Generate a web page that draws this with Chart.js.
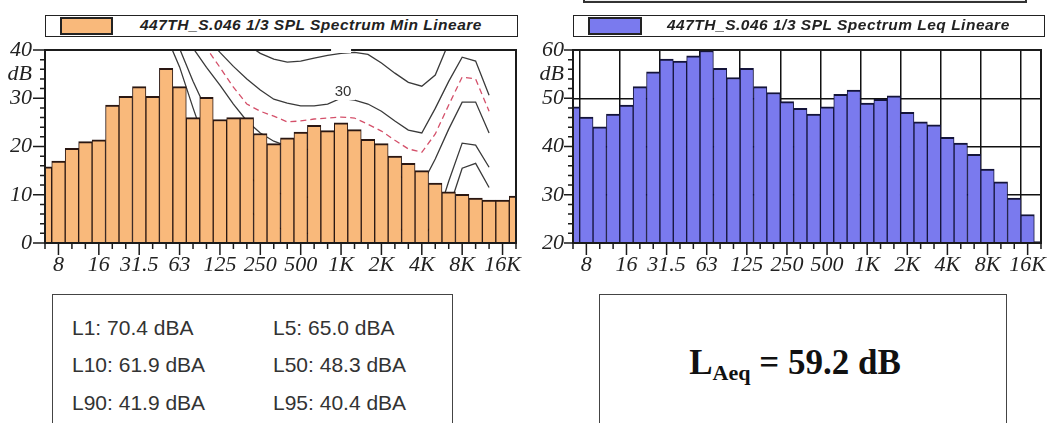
<!DOCTYPE html>
<html>
<head>
<meta charset="utf-8">
<script src="https://cdn.jsdelivr.net/npm/chart.js@4.4.0/dist/chart.umd.min.js"></script>
<style>
  body { margin: 0; width: 1050px; height: 423px; overflow: hidden; background: #fff; position: relative;
         font-family: "Liberation Sans", Arial, sans-serif; }
  canvas { position: absolute; top: 0; }
  .legend { position: absolute; top: 15px; height: 22px; box-sizing: border-box; border: 1.5px solid #222; background: #fff; }
  .legend .swatch { position: absolute; top: 0.5px; height: 18px; box-sizing: border-box; border: 2px solid #222; }
  .legend .label { position: absolute; top: 0; line-height: 19px; font: italic bold 15.5px "Liberation Sans", Arial, sans-serif;
                   letter-spacing: 0.5px; color: #222; white-space: nowrap; }
  .box { position: absolute; top: 294px; height: 140px; box-sizing: border-box; border: 1.5px solid #444; }
  .stat { position: absolute; font-size: 21px; line-height: 24px; color: #333; white-space: nowrap; }
  .laeq { position: absolute; left: 599px; width: 408px; top: 343px; line-height: 44px; text-align: center; padding-right: 16px;
          box-sizing: border-box; font: bold 35px "Liberation Serif", "Times New Roman", serif; color: #111; }
  .laeq sub { font-size: 22px; vertical-align: -6px; }
  .cut { position: absolute; left: 583px; top: -12px; width: 444px; height: 15px; box-sizing: border-box;
         border: 2px solid #333; background: #f2f2f2; }
</style>
</head>
<body>
<div class="cut"></div>

<canvas id="minChart" width="525" height="290" style="left:0"></canvas>
<canvas id="leqChart" width="525" height="290" style="left:525px"></canvas>

<div class="legend" style="left:45px; width:473px">
  <div class="swatch" style="left:14px; width:53px; background:#F9B97B"></div>
  <div class="label" style="left:94px">447TH_S.046 1/3 SPL Spectrum Min Lineare</div>
</div>
<div class="legend" style="left:573px; width:472px">
  <div class="swatch" style="left:14px; width:54px; background:#7A7AEE"></div>
  <div class="label" style="left:93px">447TH_S.046 1/3 SPL Spectrum Leq Lineare</div>
</div>

<div class="box" style="left:52px; width:401px"></div>
<div class="stat" style="left:72px; top:316px">L1: 70.4 dBA</div>
<div class="stat" style="left:273px; top:316px">L5: 65.0 dBA</div>
<div class="stat" style="left:72px; top:353px">L10: 61.9 dBA</div>
<div class="stat" style="left:273px; top:353px">L50: 48.3 dBA</div>
<div class="stat" style="left:72px; top:391px">L90: 41.9 dBA</div>
<div class="stat" style="left:273px; top:391px">L95: 40.4 dBA</div>

<div class="box" style="left:599px; width:408px"></div>
<div class="laeq">L<sub>Aeq</sub> = 59.2 dB</div>

<script>
// 1/3 octave bands, 6.3 Hz .. 20 kHz
const categories = ['6.3', '8', '10', '12.5', '16', '20', '25', '31.5', '40', '50', '63', '80', '100', '125', '160',
  '200', '250', '315', '400', '500', '630', '800', '1K', '1.25K', '1.6K', '2K', '2.5K', '3.15K', '4K', '5K', '6.3K',
  '8K', '10K', '12.5K', '16K', '20K'];
const majorBands = ['8', '16', '31.5', '63', '125', '250', '500', '1K', '2K', '4K', '8K', '16K'];

const minSpectrum = [15.8, 17.0, 19.6, 21.0, 21.4, 28.6, 30.4, 32.4, 30.4, 36.2, 32.4, 26.0, 30.2, 25.6, 26.0, 26.0,
  22.7, 20.6, 21.8, 23.0, 24.4, 23.3, 24.9, 23.5, 21.5, 20.6, 18.0, 16.5, 15.0, 12.4, 10.6, 10.1, 9.3, 8.9, 8.9, 9.7];
const leqSpectrum = [48.2, 46.1, 44.1, 46.7, 48.6, 52.4, 55.5, 58.1, 57.7, 58.8, 59.9, 56.2, 54.3, 56.2, 52.4, 51.2,
  49.3, 47.9, 46.7, 48.2, 50.8, 51.7, 49.0, 49.8, 50.5, 47.1, 45.1, 44.5, 41.9, 40.7, 38.4, 35.3, 32.7, 29.3, 25.9, 20.3];

// curves drawn behind the Min spectrum
const curve40 = [null, null, null, null, null, null, null, null, null, null, null, null, null, null, 44, 41.2,
  39.3, 38.1, 37.5, 37.7, 38.3, 38.9, 39.3, 39.5, 39.1, 37.3, 35.2, 33.3, 32.5, 34.8, 41.5, 47, 49, 46, null, null];
const curve30 = [null, null, null, null, null, null, null, null, null, null, null, null, 42.7, 39.5, 36.6, 34.0,
  31.7, 29.8, 29.0, 28.4, 28.4, 28.8, 30.0, 29.6, 28.8, 27.3, 25.3, 23.4, 22.8, 27.9, 33.5, 38.5, 37.7, 30.6, null, null];
const curveRef = [null, null, null, null, null, null, null, null, null, null, null, 44.4, 40.4, 36.4, 32.3, 28.8,
  27.3, 26.3, 25.1, 25.3, 25.7, 25.9, 26.1, 25.9, 24.6, 23.2, 21.3, 19.5, 18.8, 22.6, 28.6, 34.4, 34.0, 27.3, null, null];
const curve20 = [null, null, null, null, null, null, null, null, null, null, null, 40.4, 36.4, 32.7, 28.8, 25.3,
  22.8, 21.1, 20.1, 19.5, 19.3, 19.5, 20.0, 19.5, 18.5, 16.5, 14.5, 12.8, 12.0, 17.4, 23.6, 29.2, 29.2, 22.8, null, null];
const curve10 = [null, null, null, null, null, null, null, null, null, 46, 40.3, 33.5, 27.5, 22, 17.5, 14,
  12, 10.5, 10, 9.5, 9.5, 9.7, 10, 9.5, 8, 6, 3.5, 2, 1.5, 4, 12.8, 20.7, 20.3, 15.7, null, null];
const curve0 = [null, null, null, null, null, null, null, null, null, 43, 36.5, 28, 20, 14, 10, 7,
  5, 3.5, 2.5, 2, 2, 2, 2.5, 2, 0.5, -1, -3, -4, -4, -1, 7, 15.5, 16.5, 11.5, null, null];

const minTicks = [0, 10, 20, 30, 40];
const leqTicks = [20, 30, 40, 50, 60];

const tickFont = { family: '"Liberation Serif", "Times New Roman", serif', style: 'italic', size: 22 };

function drawFrame(chart, yMajor) {
  const { ctx, chartArea: a, scales: { x, y } } = chart;
  ctx.save();
  ctx.strokeStyle = '#1b1b1b';
  ctx.lineWidth = 1.5;
  ctx.beginPath();
  for (let v = y.min; v <= y.max; v += 2) {
    const py = y.getPixelForValue(v);
    ctx.moveTo(a.left - (v % 10 === 0 ? yMajor : 5), py);
    ctx.lineTo(a.left, py);
  }
  categories.forEach((c, i) => {
    const px = x.getPixelForValue(i);
    ctx.moveTo(px, a.bottom);
    ctx.lineTo(px, a.bottom + (majorBands.includes(c) ? 12 : 6));
  });
  ctx.stroke();
  ctx.lineWidth = 2;
  ctx.strokeRect(a.left, a.top, a.right - a.left, a.bottom - a.top);
  ctx.restore();
}

function xScale(yWidth, height, gridColor) {
  return {
    offset: false,
    afterFit: s => { s.height = height; },
    grid: { display: !!gridColor, drawTicks: false, color: gridColor || '#000', lineWidth: 1.5 },
    border: { display: false },
    ticks: {
      autoSkip: false, maxRotation: 0, padding: 9, color: '#222', font: tickFont,
      callback: (v, i) => majorBands.includes(categories[i]) ? categories[i] : ''
    }
  };
}

function yScale(ticks, unitAt, width, padding, gridColor) {
  return {
    min: ticks[0], max: ticks[ticks.length - 1],
    afterBuildTicks: s => { s.ticks = ticks.concat([unitAt]).sort((a, b) => a - b).map(v => ({ value: v })); },
    afterFit: s => { s.width = width; },
    grid: { display: !!gridColor, drawTicks: false, color: gridColor || '#000', lineWidth: 1.5 },
    border: { display: false },
    ticks: { padding: padding, color: '#222', font: tickFont, callback: v => v === unitAt ? 'dB' : v }
  };
}

function curve(data, dashed) {
  return {
    type: 'line', data: data, order: 2, fill: false, tension: 0, pointRadius: 0,
    borderColor: dashed ? '#d4506a' : '#3a3a3a', borderWidth: 1.3, borderDash: dashed ? [6, 4] : []
  };
}

const barStyle = {
  barPercentage: 1, categoryPercentage: 1, order: 1,
  borderWidth: { top: 2, left: 1, right: 1, bottom: 0 }
};

new Chart(document.getElementById('minChart'), {
  type: 'bar',
  data: {
    labels: categories,
    datasets: [
      Object.assign({ data: minSpectrum, backgroundColor: '#F9B97B', borderColor: '#2a1712' }, barStyle),
      curve(curve40), curve(curve30), curve(curveRef, true), curve(curve20), curve(curve10), curve(curve0)
    ]
  },
  options: {
    responsive: false, animation: false,
    layout: { padding: { top: 50, right: 7, left: 0, bottom: 0 } },
    plugins: { legend: { display: false }, tooltip: { enabled: false } },
    scales: { x: xScale(45, 47), y: yScale(minTicks, 35, 45, 13) }
  },
  plugins: [{
    id: 'minFrame',
    afterDatasetsDraw(chart) {
      const { ctx, scales: { x, y }, chartArea: a } = chart;
      drawFrame(chart, 12);
      // contour labels
      const px = x.getPixelForValue(22) + 2, py = y.getPixelForValue(31.3);
      ctx.save();
      ctx.fillStyle = '#fff';
      ctx.fillRect(px - 12, py - 8, 24, 16);
      ctx.fillRect(px - 12, a.top - 3, 20, 6);
      ctx.fillStyle = '#333';
      ctx.font = '15px "Liberation Sans", Arial, sans-serif';
      ctx.textAlign = 'center';
      ctx.textBaseline = 'middle';
      ctx.fillText('30', px, py);
      ctx.restore();
    }
  }]
});

new Chart(document.getElementById('leqChart'), {
  type: 'bar',
  data: {
    labels: categories,
    datasets: [
      Object.assign({ data: leqSpectrum, backgroundColor: '#7A7AEE', borderColor: '#14143a' }, barStyle)
    ]
  },
  options: {
    responsive: false, animation: false,
    layout: { padding: { top: 50, right: 5, left: 0, bottom: 0 } },
    plugins: { legend: { display: false }, tooltip: { enabled: false } },
    scales: {
      x: xScale(48, 47, ctx => majorBands.includes(categories[ctx.index]) ? '#111' : 'rgba(0,0,0,0)'),
      y: yScale(leqTicks, 55, 48, 9, ctx => [30, 40, 50].includes(ctx.tick.value) ? '#111' : 'rgba(0,0,0,0)')
    }
  },
  plugins: [{
    id: 'leqFrame',
    afterDatasetsDraw(chart) { drawFrame(chart, 9); }
  }]
});
</script>
</body>
</html>
